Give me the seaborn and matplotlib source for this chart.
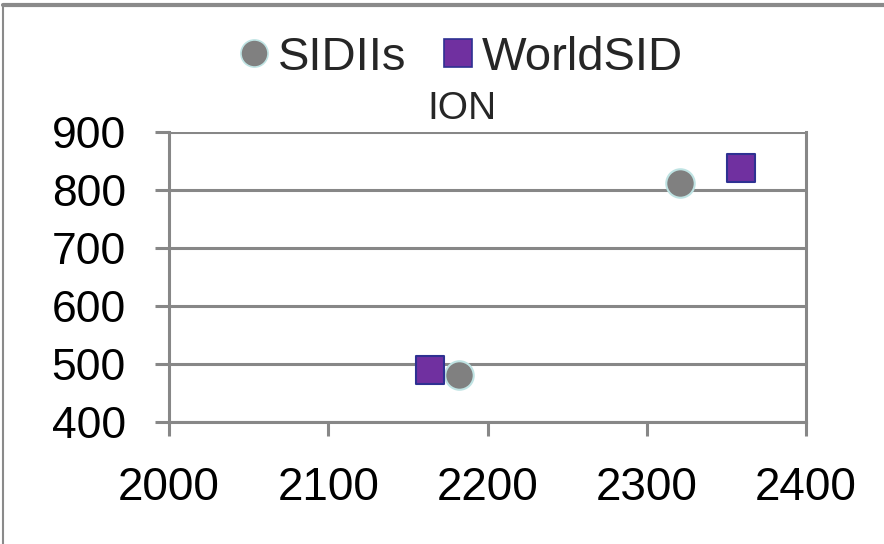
import matplotlib
matplotlib.use("Agg")
import matplotlib.pyplot as plt
import seaborn as sns
import pandas as pd
from matplotlib.lines import Line2D

series_names = ["SIDIIs", "WorldSID"]
sidiis_x = [2182, 2321]
sidiis_y = [481, 812]
worldsid_x = [2164, 2359]
worldsid_y = [490, 838]
x_ticks = [2000, 2100, 2200, 2300, 2400]
y_ticks = [400, 500, 600, 700, 800, 900]
title = "ION"

df = pd.DataFrame({
    "x": sidiis_x + worldsid_x,
    "y": sidiis_y + worldsid_y,
    "series": [series_names[0]] * len(sidiis_x) + [series_names[1]] * len(worldsid_x),
})

sns.set_style("white")
plt.rcParams["font.family"] = ["Liberation Sans", "DejaVu Sans"]

fig = plt.figure(figsize=(8.84, 5.44), dpi=100)
ax = fig.add_axes([169 / 884, 1 - 422 / 544, (806 - 169) / 884, (422 - 132) / 544])

grid_c = "#878787"
for yv in y_ticks:
    ax.axhline(yv, color=grid_c, lw=2.2, zorder=1)

palette = {"SIDIIs": "#808080", "WorldSID": "#7030a0"}

sub1 = df[df.series == "SIDIIs"]
sub2 = df[df.series == "WorldSID"]
sns.scatterplot(data=sub1, x="x", y="y", color=palette["SIDIIs"], marker="o", s=420,
                edgecolor="#bfe3e3", linewidth=1.5, ax=ax, zorder=3, legend=False)
sns.scatterplot(data=sub2, x="x", y="y", color=palette["WorldSID"], marker="s", s=430,
                edgecolor="#2e3192", linewidth=1.5, ax=ax, zorder=3, legend=False)

ax.set_xlim(2000, 2400)
ax.set_ylim(400, 900)
ax.set_xticks(x_ticks)
ax.set_yticks(y_ticks)
ax.set_xlabel("")
ax.set_ylabel("")
for s in ["left", "bottom", "right"]:
    ax.spines[s].set_color(grid_c)
    ax.spines[s].set_linewidth(2.2)
ax.spines["top"].set_visible(False)
ax.tick_params(axis="both", direction="out", colors=grid_c, length=10, width=2.2,
               labelcolor="black")
ax.tick_params(axis="y", pad=21, labelsize=32)
ax.tick_params(axis="x", pad=22, labelsize=33)
ax.tick_params(left=True, bottom=True)

fig.text(462 / 884, 1 - 109 / 544, title, ha="center", va="center", fontsize=28)

handles = [
    Line2D([], [], marker="o", linestyle="", markersize=19.5, markerfacecolor="#808080",
           markeredgecolor="#bfe3e3", markeredgewidth=1.2),
    Line2D([], [], marker="s", linestyle="", markersize=19.5, markerfacecolor="#7030a0",
           markeredgecolor="#2e3192", markeredgewidth=1.2),
]
fig.legend(handles, series_names, loc="center", bbox_to_anchor=(457 / 884, 1 - 58 / 544),
           ncol=2, frameon=False, fontsize=34, handletextpad=0.0, columnspacing=0.6,
           handlelength=1.0, borderpad=0)

# chart area border (top and left edges visible)
fig.add_artist(Line2D([3 / 884, 1], [1 - 5 / 544, 1 - 5 / 544], color="#8a8a8a", lw=3,
                      transform=fig.transFigure))
fig.add_artist(Line2D([3 / 884, 3 / 884], [0, 1 - 5 / 544], color="#8a8a8a", lw=1.5,
                      transform=fig.transFigure))

fig.savefig("out.png", dpi=100)
